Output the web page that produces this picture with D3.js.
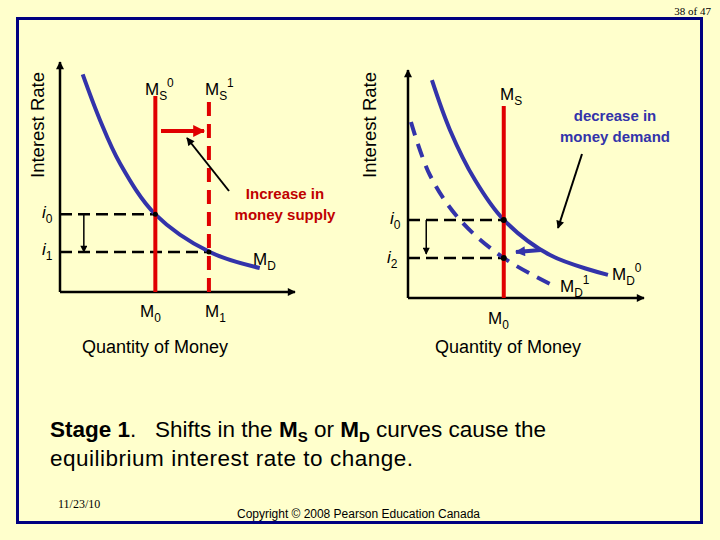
<!DOCTYPE html>
<html><head><meta charset="utf-8">
<script src="https://cdn.jsdelivr.net/npm/d3@7"></script>
<style>body{margin:0;background:#FFFFCC}svg{display:block}text{white-space:pre}</style></head>
<body><svg id="c" width="720" height="540"></svg>
<script>
// Left panel: increase in money supply
const mdLeft = [[10,98],[17.6,77.5],[26.4,58],[42,35],[66,18],[88,10.8]];
const msLeft = [42, 65.6];       // MS0, MS1 quantity
const ratesLeft = [35, 18];      // i0, i1
// Right panel: decrease in money demand
const md0Right = [[10.5,99],[18.4,76.4],[29.4,53.6],[42,35.5],[62.3,19.5],[87.7,10.5]];
const md1Right = [[1.3,80],[9.6,55.9],[22.8,35.5],[42,18.2],[63.2,5.9]];
const msRight = 42;
const ratesRight = [35.5, 18.2]; // i0, i2

const svg = d3.select("#c");
const F = "Arial, Liberation Sans, sans-serif";
const RED = "#E00000", BLUE = "#3333AA";
const defs = svg.append("defs");
function mk(id,col,w,h){defs.append("marker").attr("id",id).attr("viewBox","0 0 10 10").attr("refX",9).attr("refY",5)
 .attr("markerWidth",w).attr("markerHeight",h).attr("orient","auto").attr("markerUnits","userSpaceOnUse")
 .append("path").attr("d","M0,0L10,5L0,10z").attr("fill",col);}
mk("ab","#000",9,8); mk("ar","#E00000",14,12); mk("abl",BLUE,12,10); mk("ab2","#000",8,7);

svg.append("rect").attr("x",17.5).attr("y",18.5).attr("width",684).attr("height",504).attr("fill","none").attr("stroke","#000080").attr("stroke-width",3);
svg.append("text").attr("x",711).attr("y",15).attr("text-anchor","end").attr("font-family","Liberation Serif, serif").attr("font-size",11).text("38 of 47");

function panel(o){
  const x = d3.scaleLinear([0,100],o.xr), y = d3.scaleLinear([0,100],o.yr);
  const g = svg.append("g");
  g.append("line").attr("x1",x(0)).attr("y1",y(0)).attr("x2",x(0)).attr("y2",o.yr[1]-8).attr("stroke","#000").attr("stroke-width",2.5).attr("marker-end","url(#ab)");
  g.append("line").attr("x1",x(0)).attr("y1",y(0)).attr("x2",o.xr[1]+8).attr("y2",y(0)).attr("stroke","#000").attr("stroke-width",2.5).attr("marker-end","url(#ab)");
  g.append("text").attr("transform",`translate(${o.ylx},125) rotate(-90)`).attr("text-anchor","middle").attr("font-family",F).attr("font-size",18.5).text("Interest Rate");
  g.append("text").attr("x",o.qx).attr("y",353).attr("text-anchor","middle").attr("font-family",F).attr("font-size",18).text("Quantity of Money");
  return {x,y,g};
}
const line = (x,y)=>d3.line().x(d=>x(d[0])).y(d=>y(d[1])).curve(d3.curveCatmullRom);
function sub(g,px,py,main,s,sup,size){
  const t=g.append("text").attr("x",px).attr("y",py).attr("font-family",F).attr("font-size",size||17);
  t.append("tspan").text(main);
  t.append("tspan").attr("font-size",(size||17)*0.7).attr("dy",5).text(s);
  if(sup!=null) t.append("tspan").attr("font-size",(size||17)*0.7).attr("dy",-13).text(sup);
  return t;
}

// LEFT
{
 const {x,y,g} = panel({xr:[60,287],yr:[292,70],ylx:44,qx:155});
 ratesLeft.forEach((r,i)=>g.append("line").attr("x1",x(0)).attr("x2",x(msLeft[i])).attr("y1",y(r)).attr("y2",y(r)).attr("stroke","#000").attr("stroke-width",2.5).attr("stroke-dasharray","12,6"));
 g.append("path").attr("d",line(x,y)(mdLeft)).attr("fill","none").attr("stroke",BLUE).attr("stroke-width",4);
 g.append("line").attr("x1",x(msLeft[0])).attr("x2",x(msLeft[0])).attr("y1",96).attr("y2",y(0)).attr("stroke",RED).attr("stroke-width",4);
 g.append("line").attr("x1",x(msLeft[1])).attr("x2",x(msLeft[1])).attr("y1",102).attr("y2",y(0)+8).attr("stroke",RED).attr("stroke-width",4).attr("stroke-dasharray","14,8");
 ratesLeft.forEach((r,i)=>g.append("circle").attr("cx",x(msLeft[i])).attr("cy",y(r)).attr("r",2.5));
 g.append("line").attr("x1",x(10.5)).attr("x2",x(10.5)).attr("y1",y(ratesLeft[0])).attr("y2",y(ratesLeft[1])).attr("stroke","#000").attr("stroke-width",1.5).attr("marker-end","url(#ab2)");
 g.append("line").attr("x1",161).attr("y1",131).attr("x2",204).attr("y2",131).attr("stroke",RED).attr("stroke-width",4).attr("marker-end","url(#ar)");
 g.append("line").attr("x1",229).attr("y1",191).attr("x2",187).attr("y2",138).attr("stroke","#000").attr("stroke-width",2).attr("marker-end","url(#ab)");
 const t=g.append("text").attr("font-family",F).attr("font-weight","bold").attr("font-size",15).attr("fill","#C00000").attr("text-anchor","middle");
 t.append("tspan").attr("x",285).attr("y",199).text("Increase in");
 t.append("tspan").attr("x",285).attr("y",220).text("money supply");
 sub(g,145,95,"M","S","0"); sub(g,205,95,"M","S","1");
 sub(g,253,265,"M","D"); sub(g,140,317,"M","0"); sub(g,205,317,"M","1");
 const it=(px,py,s)=>{const t=g.append("text").attr("x",px).attr("y",py).attr("font-family",F).attr("font-size",17);t.append("tspan").attr("font-style","italic").text("i");t.append("tspan").attr("font-size",12).attr("dy",5).text(s);};
 it(42,218,"0"); it(42,255,"1");
}
// RIGHT
{
 const {x,y,g} = panel({xr:[408,636],yr:[298,78],ylx:376,qx:508});
 ratesRight.forEach(r=>g.append("line").attr("x1",x(0)).attr("x2",x(msRight)).attr("y1",y(r)).attr("y2",y(r)).attr("stroke","#000").attr("stroke-width",2.5).attr("stroke-dasharray","12,6"));
 g.append("path").attr("d",line(x,y)(md0Right)).attr("fill","none").attr("stroke",BLUE).attr("stroke-width",4);
 g.append("path").attr("d",line(x,y)(md1Right)).attr("fill","none").attr("stroke",BLUE).attr("stroke-width",4).attr("stroke-dasharray","14,9");
 g.append("line").attr("x1",x(msRight)).attr("x2",x(msRight)).attr("y1",106).attr("y2",y(0)).attr("stroke",RED).attr("stroke-width",4);
 ratesRight.forEach(r=>g.append("circle").attr("cx",x(msRight)).attr("cy",y(r)).attr("r",3));
 g.append("line").attr("x1",x(8)).attr("x2",x(8)).attr("y1",y(ratesRight[0])).attr("y2",y(ratesRight[1])-4).attr("stroke","#000").attr("stroke-width",1.5).attr("marker-end","url(#ab2)");
 g.append("line").attr("x1",541).attr("y1",250).attr("x2",516).attr("y2",252).attr("stroke",BLUE).attr("stroke-width",4).attr("marker-end","url(#abl)");
 g.append("line").attr("x1",582).attr("y1",154).attr("x2",558).attr("y2",228).attr("stroke","#000").attr("stroke-width",2).attr("marker-end","url(#ab)");
 const t=g.append("text").attr("font-family",F).attr("font-weight","bold").attr("font-size",15).attr("fill",BLUE).attr("text-anchor","middle");
 t.append("tspan").attr("x",615).attr("y",121).text("decrease in");
 t.append("tspan").attr("x",615).attr("y",142).text("money demand");
 sub(g,500,100,"M","S"); sub(g,612,280,"M","D","0"); sub(g,560,292,"M","D","1");
 sub(g,488,324,"M","0");
 const it=(px,py,s)=>{const t=g.append("text").attr("x",px).attr("y",py).attr("font-family",F).attr("font-size",17);t.append("tspan").attr("font-style","italic").text("i");t.append("tspan").attr("font-size",12).attr("dy",5).text(s);};
 it(390,224,"0"); it(387,263,"2");
}
// Caption
const c1=svg.append("text").attr("x",50).attr("y",437).attr("font-family",F).attr("font-size",22.5);
c1.append("tspan").attr("font-weight","bold").text("Stage 1");
c1.append("tspan").text(".   Shifts in the ");
c1.append("tspan").attr("font-weight","bold").text("M");
c1.append("tspan").attr("font-weight","bold").attr("font-size",15).attr("dy",5).text("S");
c1.append("tspan").attr("dy",-5).text(" or ");
c1.append("tspan").attr("font-weight","bold").text("M");
c1.append("tspan").attr("font-weight","bold").attr("font-size",15).attr("dy",5).text("D");
c1.append("tspan").attr("dy",-5).text(" curves cause the");
svg.append("text").attr("x",50).attr("y",466).attr("font-family",F).attr("font-size",22.5).attr("textLength",363).text("equilibrium interest rate to change.");
svg.append("text").attr("x",58).attr("y",508).attr("font-family","Liberation Serif, serif").attr("font-size",12).text("11/23/10");
svg.append("text").attr("x",237).attr("y",518).attr("font-family","Liberation Sans Narrow, Arial, sans-serif").attr("font-size",12).attr("textLength",243).text("Copyright © 2008 Pearson Education Canada");
</script></body></html>
